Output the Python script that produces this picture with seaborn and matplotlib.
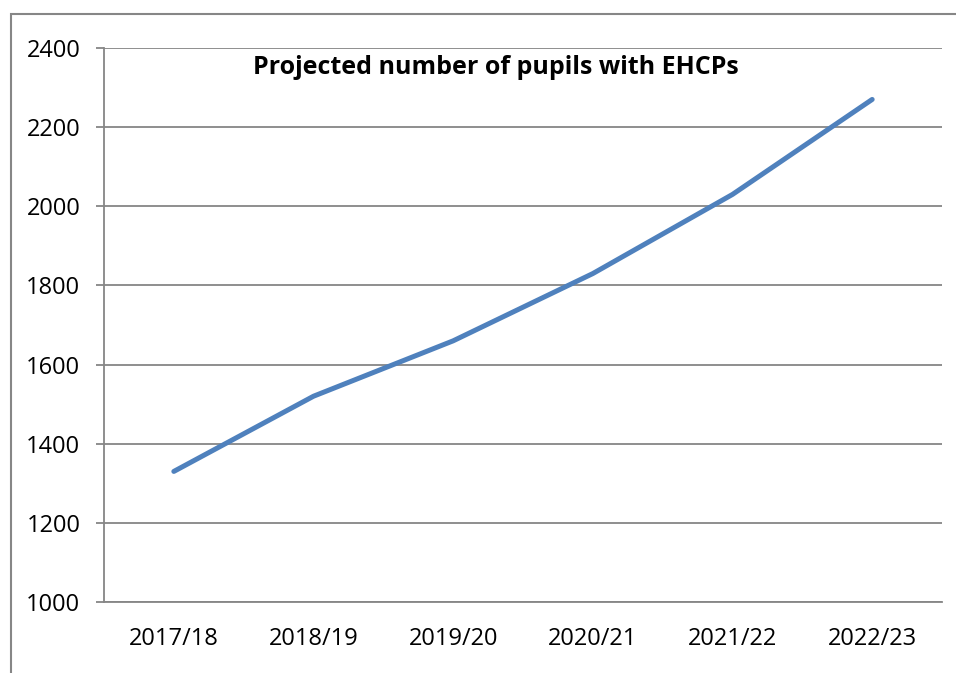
import matplotlib
matplotlib.use("Agg")
import matplotlib.pyplot as plt
import seaborn as sns
import pandas as pd
from matplotlib.patches import Rectangle
from matplotlib.ticker import FixedLocator

years = ["2017/18", "2018/19", "2019/20", "2020/21", "2021/22", "2022/23"]
pupils = [1330, 1520, 1660, 1830, 2030, 2270]
y_ticks = [1000, 1200, 1400, 1600, 1800, 2000, 2200, 2400]

sns.set_style("white")
plt.rcParams['font.family'] = ['Open Sans', 'DejaVu Sans']

grey = "#868686"
df = pd.DataFrame({"year": years, "pupils": pupils})

fig = plt.figure(figsize=(9.56, 6.73), dpi=100)
ax = fig.add_axes([104 / 956, 1 - 602 / 673, (942 - 104) / 956, (602 - 48) / 673])

sns.lineplot(data=df, x="year", y="pupils", ax=ax, color="#4F81BD", linewidth=3.6,
             solid_capstyle="round", zorder=3)

ax.set_xlim(-0.5, len(years) - 0.5)
ax.set_ylim(1000, 2400)
ax.set_yticks(y_ticks)
ax.set_yticklabels([str(v) for v in y_ticks], fontsize=17, color="black")
ax.set_xticks(range(len(years)))
ax.set_xticklabels(years, fontsize=17, color="black")
ax.xaxis.set_minor_locator(FixedLocator([i - 0.5 for i in range(len(years) + 1)]))
ax.tick_params(axis="x", which="major", length=0, pad=18)
ax.tick_params(axis="x", which="minor", length=6, width=1.3, color=grey, direction="out")
ax.tick_params(axis="y", length=6, width=1.3, color=grey, direction="out", pad=11, left=True)
ax.yaxis.grid(True, color=grey, linewidth=1.3)
ax.set_axisbelow(True)
ax.set_xlabel("")
ax.set_ylabel("")
for side in ["top", "right"]:
    ax.spines[side].set_visible(False)
for side in ["left", "bottom"]:
    ax.spines[side].set_color(grey)
    ax.spines[side].set_linewidth(1.3)

ax.text(0.468, 0.965, "Projected number of pupils with EHCPs", transform=ax.transAxes,
        ha="center", va="center", fontsize=18, fontweight="bold", color="black")

# outer chart border (cut off at right and bottom)
fig.patches.append(Rectangle((11 / 956, -0.1), 1.2, 1.1 - 14 / 673, transform=fig.transFigure,
                             fill=False, edgecolor=grey, linewidth=1.5))

fig.savefig("out.png", dpi=100)
